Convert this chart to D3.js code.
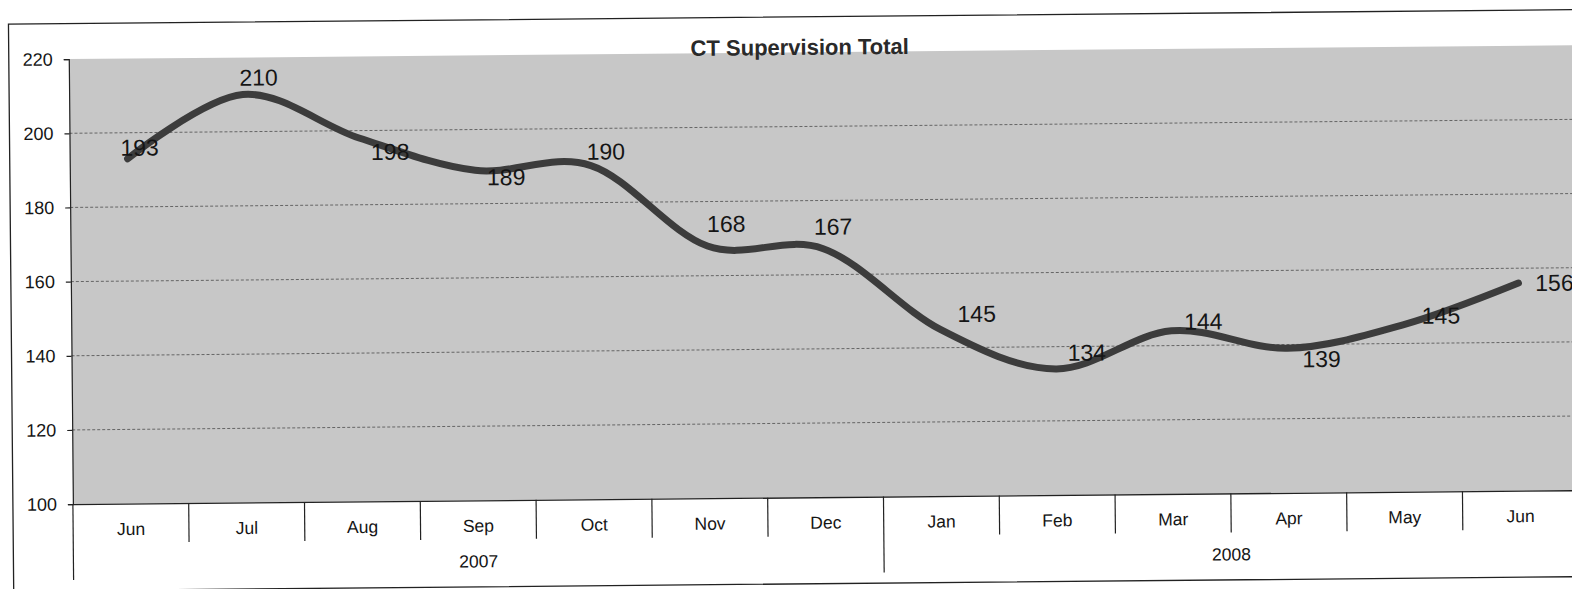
<!DOCTYPE html>
<html>
<head>
<meta charset="utf-8">
<script src="https://cdn.jsdelivr.net/npm/d3@7/dist/d3.min.js"></script>
<style>
    body { margin: 0; background: #fff; }
    text { font-family: "Liberation Sans", Arial, sans-serif; fill: #151515; }
</style>
</head>
<body>
<div id="chart"></div>
<script>
// Data
const months = ["Jun", "Jul", "Aug", "Sep", "Oct", "Nov", "Dec", "Jan", "Feb", "Mar", "Apr", "May", "Jun"];
const yearLabels = ["2007", "2008"];
const monthsPerYear = [7, 6];
const totals = [193, 210, 198, 189, 190, 168, 167, 145, 134, 144, 139, 145, 156];
const yTicks = [100, 120, 140, 160, 180, 200, 220];
const title = "CT Supervision Total";

// where each value label sits relative to its point (as placed in the original)
const labelNudge = [[12, -11], [16, -17], [31, 14], [31, 7], [15, -14], [19, -22], [10, -22],
    [37, -15], [31, -16], [32, -9], [34, 11], [38, -9], [36, 0]];

const W = 1572, H = 589;
const margin = {left: 71, top: 52.5};
const band = 115.8;
const plotW = band * months.length;
const plotH = 445;

const svg = d3.select("#chart")
    .append("svg")
    .attr("width", W)
    .attr("height", H);

// the scan is slightly tilted
const root = svg.append("g")
    .attr("transform", "rotate(-0.53 786 295)");

// outer frame of the chart area
root.append("path")
    .attr("d", "M" + (W + 20) + ",17 H11 V584 H" + (W + 20))
    .attr("fill", "none")
    .attr("stroke", "#222")
    .attr("stroke-width", 1.3);

const g = root.append("g")
    .attr("transform", "translate(" + margin.left + "," + margin.top + ")");

// Scales
const x = d3.scaleBand().domain(d3.range(months.length)).range([0, plotW]).padding(0);
const y = d3.scaleLinear().domain([100, 220]).range([plotH, 0]);

// plot background
g.append("rect")
    .attr("width", plotW)
    .attr("height", plotH)
    .attr("fill", "#c7c7c7");

// grid lines
g.append("g")
    .selectAll("line")
    .data(yTicks.filter(d => d > 100 && d < 220))
    .enter()
    .append("line")
    .attr("x1", 0)
    .attr("x2", plotW)
    .attr("y1", d => y(d))
    .attr("y2", d => y(d))
    .attr("stroke", "#5a5a5a")
    .attr("stroke-width", 0.9)
    .attr("stroke-dasharray", "3,2");

// y axis
const yAxis = g.append("g")
    .attr("class", "y axis")
    .call(d3.axisLeft(y).tickValues(yTicks).tickSize(5).tickPadding(11));
yAxis.selectAll("text").attr("font-size", "18px").style("fill", "#151515");
yAxis.selectAll("line, path").attr("stroke", "#222").attr("stroke-width", 1.2);

// x axis: months
const xAxis = g.append("g")
    .attr("class", "x axis")
    .attr("transform", "translate(0," + plotH + ")")
    .call(d3.axisBottom(x).tickSize(0).tickPadding(19).tickFormat(i => months[i]));
xAxis.selectAll("text").attr("font-size", "17.5px").style("fill", "#151515");
xAxis.select(".domain").attr("stroke", "#222").attr("stroke-width", 1.3);

// separators between months, longer ones between years
let yearStarts = [0];
monthsPerYear.forEach((n, i) => yearStarts.push(yearStarts[i] + n));

g.append("g")
    .selectAll("line")
    .data(d3.range(months.length + 1))
    .enter()
    .append("line")
    .attr("x1", i => i * x.step())
    .attr("x2", i => i * x.step())
    .attr("y1", plotH)
    .attr("y2", i => plotH + (yearStarts.includes(i) ? 76 : 39))
    .attr("stroke", "#222")
    .attr("stroke-width", 1.2);

// years
g.append("g")
    .selectAll("text")
    .data(yearLabels)
    .enter()
    .append("text")
    .attr("x", (d, i) => (yearStarts[i] + yearStarts[i + 1]) / 2 * x.step())
    .attr("y", plotH + 67)
    .attr("text-anchor", "middle")
    .attr("font-size", "17.5px")
    .text(d => d);

// smoothed line
const line = d3.line()
    .x((d, i) => x(i) + x.bandwidth() / 2)
    .y(d => y(d))
    .curve(d3.curveCatmullRom.alpha(0));

g.append("path")
    .datum(totals)
    .attr("fill", "none")
    .attr("stroke", "#3c3c3c")
    .attr("stroke-width", 7)
    .attr("stroke-linecap", "round")
    .attr("d", line);

// value labels
g.append("g")
    .selectAll("text")
    .data(totals)
    .enter()
    .append("text")
    .attr("x", (d, i) => x(i) + x.bandwidth() / 2 + labelNudge[i][0])
    .attr("y", (d, i) => y(d) + labelNudge[i][1])
    .attr("dy", "0.35em")
    .attr("text-anchor", "middle")
    .attr("font-size", "23px")
    .text(d => d);

// title
root.append("text")
    .attr("x", 802)
    .attr("y", 55)
    .attr("text-anchor", "middle")
    .attr("font-size", "22px")
    .attr("font-weight", "bold")
    .style("fill", "#2a2a2a")
    .text(title);
</script>
</body>
</html>
